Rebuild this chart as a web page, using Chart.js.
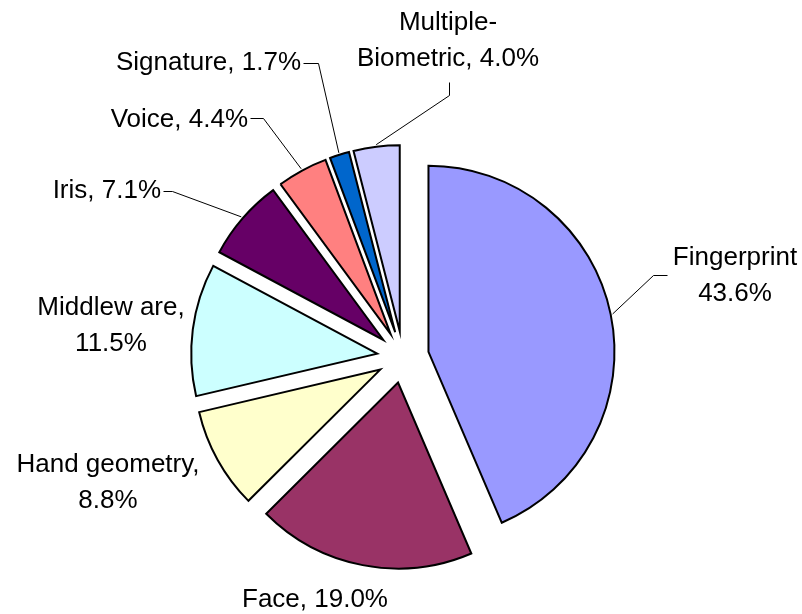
<!DOCTYPE html>
<html><head><meta charset="utf-8">
<script src="https://cdn.jsdelivr.net/npm/chart.js@4/dist/chart.umd.min.js"></script>
<style>html,body{margin:0;padding:0;background:#fff;}canvas{display:block;}</style>
</head><body>
<canvas id="c" width="802" height="614"></canvas>
<script>
// ---- data ----
const categories = ["Fingerprint", "Face", "Hand geometry", "Middlew are", "Iris", "Voice", "Signature", "Multiple-Biometric"];
const shares = [43.6, 19.0, 8.8, 11.5, 7.1, 4.4, 1.7, 4.0];
const sliceColors = ["#9999FF", "#993366", "#FFFFCC", "#CCFFFF", "#660066", "#FF8080", "#0066CC", "#CCCCFF"];
// label text lines (built from the data)
const labelText = [
  [categories[0], shares[0].toFixed(1) + "%"],
  [categories[1] + ", " + shares[1].toFixed(1) + "%"],
  [categories[2] + ",", shares[2].toFixed(1) + "%"],
  [categories[3] + ",", shares[3].toFixed(1) + "%"],
  [categories[4] + ", " + shares[4].toFixed(1) + "%"],
  [categories[5] + ", " + shares[5].toFixed(1) + "%"],
  [categories[6] + ", " + shares[6].toFixed(1) + "%"],
  ["Multiple-", "Biometric, " + shares[7].toFixed(1) + "%"]
];

// ---- layout / style ----
const EXPLODE = 26;
const FONT = '26px "Liberation Sans", Arial, sans-serif';
const LINE_H = 36;
const labelLayout = [
  {x: 735, y: 265, align: 'center', leader: [[653, 275], [667, 275]]},
  {x: 315, y: 607, align: 'center'},
  {x: 108, y: 472, align: 'center'},
  {x: 111, y: 315, align: 'center'},
  {x: 161, y: 198, align: 'right', leader: [[172, 191], [163, 191]]},
  {x: 248, y: 127, align: 'right', leader: [[263, 118], [250, 118]]},
  {x: 301, y: 70, align: 'right', leader: [[318, 63], [303, 63]]},
  {x: 448, y: 30, align: 'center', leader: [[449, 95], [449, 82]]}
];

const explodePlugin = {
  id: 'explode',
  beforeDatasetDraw(chart, args) {
    const ctx = chart.ctx;
    args.meta.data.forEach(arc => {
      const h = (arc.startAngle + arc.endAngle) / 2;
      ctx.save();
      ctx.translate(Math.cos(h) * EXPLODE, Math.sin(h) * EXPLODE);
      arc.draw(ctx, chart.chartArea);
      ctx.restore();
    });
    return false;
  }
};

const labelPlugin = {
  id: 'pieLabels',
  afterDatasetsDraw(chart) {
    const ctx = chart.ctx;
    const meta = chart.getDatasetMeta(0);
    ctx.save();
    ctx.font = FONT;
    ctx.fillStyle = '#000';
    ctx.textBaseline = 'alphabetic';
    ctx.strokeStyle = '#000';
    ctx.lineWidth = 1;
    meta.data.forEach((arc, i) => {
      const L = labelLayout[i];
      ctx.textAlign = L.align;
      labelText[i].forEach((t, k) => ctx.fillText(t, L.x, L.y + k * LINE_H));
      if (L.leader) {
        const h = (arc.startAngle + arc.endAngle) / 2;
        const r = arc.outerRadius + EXPLODE + 2;
        const ax = arc.x + Math.cos(h) * r, ay = arc.y + Math.sin(h) * r;
        ctx.beginPath();
        ctx.moveTo(ax, ay);
        L.leader.forEach(p => ctx.lineTo(p[0] + 0.5, p[1] + 0.5));
        ctx.stroke();
      }
    });
    ctx.restore();
  }
};

new Chart(document.getElementById('c'), {
  type: 'pie',
  data: {
    labels: categories,
    datasets: [{
      data: shares,
      backgroundColor: sliceColors,
      borderColor: '#000',
      borderWidth: 2,
      borderJoinStyle: 'miter',
      offset: 0,
      hoverOffset: 0
    }]
  },
  options: {
    responsive: false,
    animation: false,
    radius: 186,
    layout: {padding: {left: 104, right: 100, top: 150, bottom: 50}},
    plugins: {legend: {display: false}, tooltip: {enabled: false}, title: {display: false}}
  },
  plugins: [explodePlugin, labelPlugin]
});
</script>
</body></html>
